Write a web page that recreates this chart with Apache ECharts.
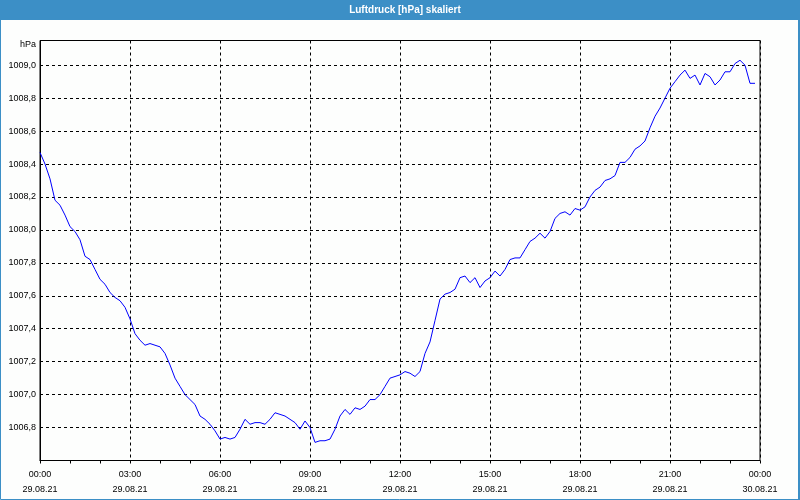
<!DOCTYPE html>
<html>
<head>
<meta charset="utf-8">
<script src="https://cdn.jsdelivr.net/npm/echarts@6/dist/echarts.min.js"></script>
<style>
html,body{margin:0;padding:0;background:#fff;}
#chart{width:800px;height:500px;}
</style>
</head>
<body>
<div id="chart"></div>
<script>
const titleText = 'Luftdruck [hPa] skaliert';
const unitLabel = 'hPa';
const stepMinutes = 10;
// pressure readings every 10 minutes from 00:00 to 23:50 (hPa)
const pressure = [
1008.47,1008.40,1008.31,1008.18,1008.15,1008.09,1008.02,1007.99,1007.94,1007.84,
1007.82,1007.76,1007.70,1007.67,1007.62,1007.59,1007.57,1007.53,1007.46,1007.37,
1007.33,1007.30,1007.31,1007.30,1007.29,1007.25,1007.18,1007.10,1007.05,1007.00,
1006.97,1006.94,1006.87,1006.85,1006.82,1006.78,1006.73,1006.74,1006.73,1006.74,
1006.79,1006.85,1006.82,1006.83,1006.83,1006.82,1006.85,1006.89,1006.88,1006.87,
1006.85,1006.83,1006.79,1006.84,1006.80,1006.71,1006.72,1006.72,1006.73,1006.79,
1006.87,1006.91,1006.88,1006.92,1006.91,1006.93,1006.97,1006.97,1007.00,1007.05,
1007.10,1007.11,1007.12,1007.14,1007.13,1007.11,1007.14,1007.25,1007.32,1007.45,
1007.58,1007.61,1007.62,1007.64,1007.71,1007.72,1007.68,1007.71,1007.65,1007.69,
1007.71,1007.75,1007.72,1007.76,1007.82,1007.83,1007.83,1007.88,1007.93,1007.95,
1007.98,1007.95,1007.99,1008.07,1008.10,1008.11,1008.09,1008.13,1008.12,1008.14,
1008.20,1008.24,1008.26,1008.30,1008.31,1008.33,1008.41,1008.41,1008.44,1008.49,
1008.51,1008.54,1008.62,1008.69,1008.74,1008.80,1008.86,1008.90,1008.94,1008.97,
1008.92,1008.94,1008.88,1008.95,1008.93,1008.88,1008.91,1008.96,1008.96,1009.01,
1009.03,1009.00,1008.89,1008.89
];
const xTickLabels = [
'00:00\n29.08.21','03:00\n29.08.21','06:00\n29.08.21','09:00\n29.08.21',
'12:00\n29.08.21','15:00\n29.08.21','18:00\n29.08.21','21:00\n29.08.21','00:00\n30.08.21'
];
const yMin = 1006.6, yMax = 1009.15, yStep = 0.2;

const seriesData = pressure.map((v, i) => [i * stepMinutes, v]);
const FONT = 'Liberation Sans';
const frameBlue = '#3c8fc6';

const chart = echarts.init(document.getElementById('chart'), null, {renderer: 'canvas'});
chart.setOption({
  animation: false,
  backgroundColor: '#fdfefd',
  grid: {left: 40, right: 40, top: 40.5, bottom: 39.5, show: true, borderColor: '#000', borderWidth: 1, backgroundColor: 'transparent'},
  graphic: [
    {type: 'rect', shape: {x: 0, y: 0, width: 800, height: 20}, style: {fill: frameBlue}, z: 10},
    {type: 'rect', shape: {x: 0.5, y: 0.5, width: 798.5, height: 499}, style: {fill: null, stroke: frameBlue, lineWidth: 1}, z: 10},
    {type: 'rect', shape: {x: 798, y: 0, width: 2, height: 500}, style: {fill: frameBlue}, z: 10},
    {type: 'text', x: 405, y: 10, style: {text: titleText, fill: '#fff', font: 'bold 10px "Liberation Sans"', textAlign: 'center', textVerticalAlign: 'middle'}, z: 11},
    {type: 'text', x: 36, y: 45, style: {text: unitLabel, fill: '#000', font: '9px "Liberation Sans"', textAlign: 'right', textVerticalAlign: 'middle'}, z: 11}
  ],
  xAxis: {
    type: 'value', min: 0, max: 1440, interval: 180,
    axisLine: {show: true, lineStyle: {color: '#000', width: 1}},
    axisTick: {show: true, inside: false, length: 3, lineStyle: {color: '#000'}},
    minorTick: {show: true, splitNumber: 3, length: 3, lineStyle: {color: '#000'}},
    splitLine: {show: true, lineStyle: {color: '#000', type: [3, 3], width: 1}},
    axisLabel: {
      color: '#000', fontFamily: FONT, fontSize: 9, lineHeight: 15, margin: 7,
      formatter: v => xTickLabels[Math.round(v / 180)] || ''
    }
  },
  yAxis: {
    type: 'value', min: yMin, max: yMax, interval: yStep,
    axisLine: {show: true, lineStyle: {color: '#000', width: 1}},
    axisTick: {show: false},
    splitLine: {show: true, lineStyle: {color: '#000', type: [3, 3], width: 1}},
    axisLabel: {
      color: '#000', fontFamily: FONT, fontSize: 9, margin: 4,
      showMinLabel: false, showMaxLabel: false,
      formatter: v => (v > yMin + 0.05 && v < yMax - 0.1) ? v.toFixed(1).replace('.', ',') : ''
    }
  },
  series: [{
    type: 'line', data: seriesData, showSymbol: false, symbol: 'none',
    lineStyle: {color: '#0000ff', width: 1}, z: 5
  }]
});
</script>
</body>
</html>
